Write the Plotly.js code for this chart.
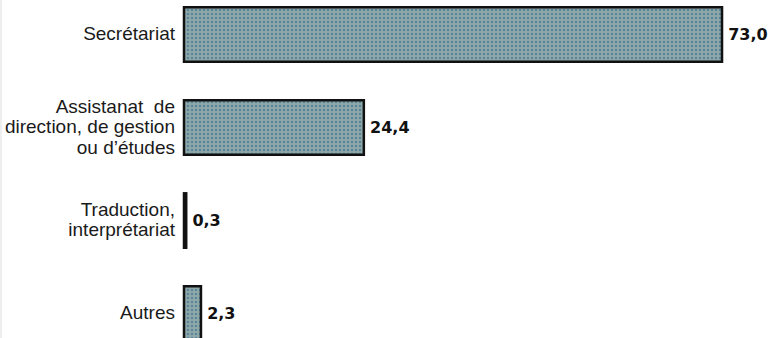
<!DOCTYPE html>
<html>
<head>
<meta charset="utf-8">
<script src="https://cdn.plot.ly/plotly-3.0.1.min.js"></script>
<style>html,body{margin:0;padding:0;background:#fff;}#chart{width:770px;height:338px;}</style>
</head>
<body>
<div id="chart"></div>
<script>
var categories = ['Secrétariat', 'Assistanat de direction, de gestion ou d’études', 'Traduction, interprétariat', 'Autres'];
var tickLabels = ['Secrétariat', 'Assistanat&nbsp; de<br>direction, de gestion<br>ou d’études', 'Traduction,<br>interprétariat', 'Autres'];
var values = [73.0, 24.4, 0.3, 2.3];

var labelSpan = function (t) { return '<span style="font-size:19px">' + t.split('<br>').join('</span><br><span style="font-size:19px">') + '</span>'; };

var trace = {
  type: 'bar',
  orientation: 'h',
  y: categories,
  x: values,
  width: 0.585,
  marker: {
    color: '#8aa5a8',
    line: {color: '#111111', width: 2.5},
    pattern: {shape: '.', bgcolor: '#8fa9ab', fgcolor: '#5a8698', size: 4, solidity: 0.3}
  },
  texttemplate: '\u2009%{x:.1f}',
  textposition: 'outside',
  textfont: {family: 'DejaVu Sans', size: 16, color: '#111111', weight: 'bold'},
  hoverinfo: 'none'
};

var layout = {
  width: 770,
  height: 338,
  margin: {l: 182, r: 0, t: 0, b: 0},
  paper_bgcolor: '#ffffff',
  plot_bgcolor: '#ffffff',
  separators: ', ',
  showlegend: false,
  font: {family: 'Liberation Sans, Arial, sans-serif', color: '#1a1a1a'},
  xaxis: {visible: false, range: [-0.2714, 79.51], fixedrange: true},
  yaxis: {
    type: 'category',
    range: [3.263, -0.371],
    autorange: false,
    tickmode: 'array',
    tickvals: categories,
    ticktext: tickLabels.map(labelSpan),
    tickfont: {family: 'Liberation Sans, Arial, sans-serif', size: 15.8, color: '#1a1a1a'},
    ticks: '',
    showline: false,
    showgrid: false,
    zeroline: false,
    ticklabelstandoff: 6
  },
  shapes: [{type: 'line', xref: 'paper', yref: 'paper', x0: -0.3078, x1: -0.3078, y0: 0, y1: 1, line: {color: '#dddddd', width: 1}}]
};

Plotly.newPlot('chart', [trace], layout, {displayModeBar: false, staticPlot: true});
</script>
</body>
</html>
